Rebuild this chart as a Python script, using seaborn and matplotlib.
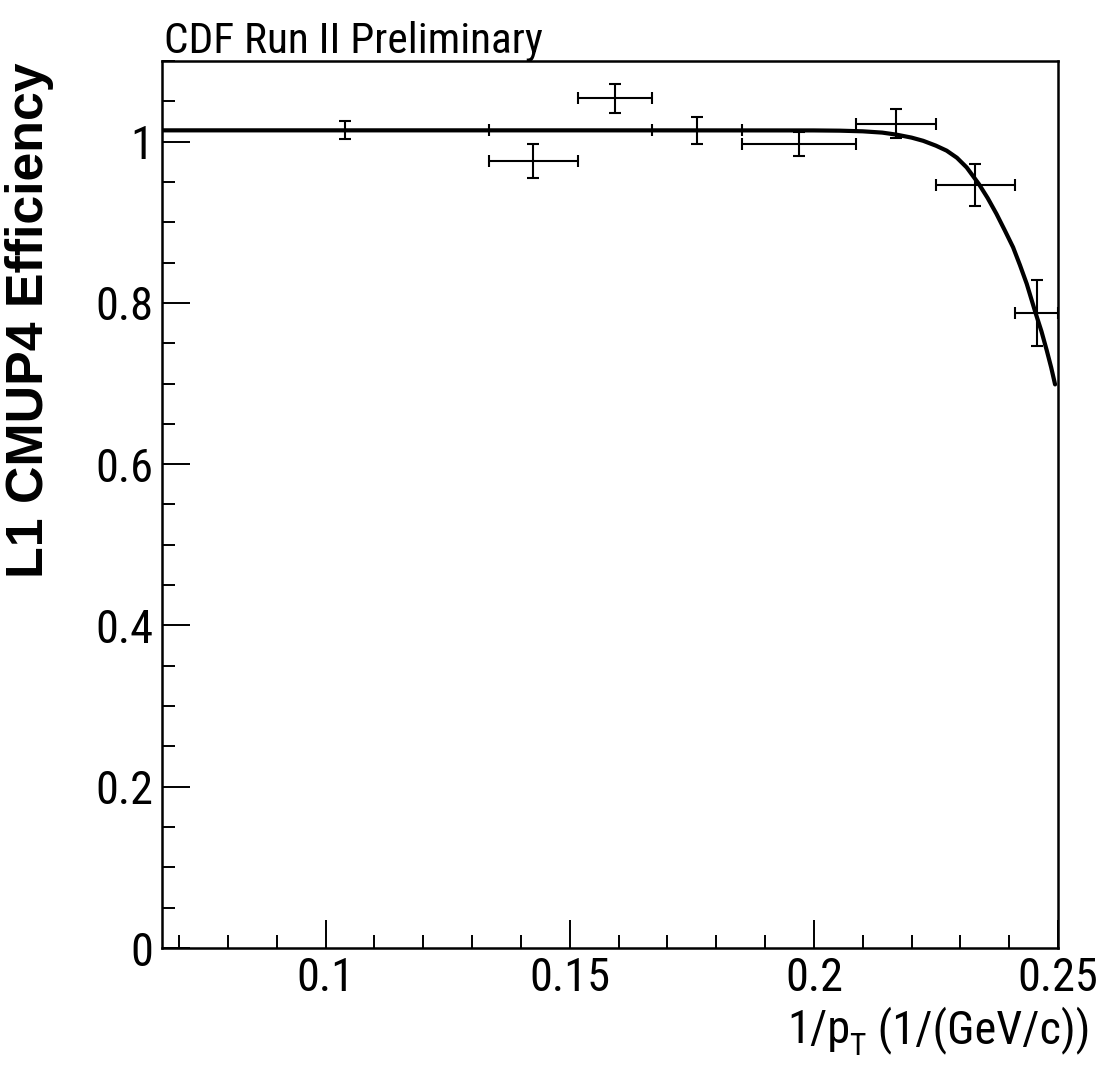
import matplotlib
matplotlib.use("Agg")
import matplotlib.pyplot as plt
import matplotlib.font_manager as fm
from matplotlib.font_manager import FontProperties
import seaborn as sns
import numpy as np
import pandas as pd
from matplotlib.ticker import MultipleLocator

# ---- data ----
inv_pt = [0.1039, 0.1425, 0.1592, 0.1760, 0.1970, 0.2168, 0.2331, 0.2456]
xerr_lo = [0.0400, 0.0091, 0.0076, 0.0092, 0.0117, 0.0082, 0.0081, 0.0044]
xerr_hi = [0.0295, 0.0091, 0.0076, 0.0092, 0.0117, 0.0082, 0.0081, 0.0044]
eff = [1.014, 0.976, 1.054, 1.014, 0.997, 1.022, 0.946, 0.788]
eff_err = [0.011, 0.021, 0.018, 0.017, 0.015, 0.018, 0.026, 0.041]

fit_x = [0.0665, 0.1500, 0.2000, 0.2053, 0.2100, 0.2140, 0.2169, 0.2200,
         0.2224, 0.2250, 0.2272, 0.2293, 0.2313, 0.2338, 0.2356, 0.2374,
         0.2391, 0.2408, 0.2422, 0.2436, 0.2454, 0.2466, 0.2477, 0.2486, 0.2494]
fit_y = [1.0140, 1.0140, 1.0139, 1.0136, 1.0128, 1.0112, 1.0087, 1.0050,
         1.0010, 0.9950, 0.9888, 0.9800, 0.9680, 0.9474, 0.9300, 0.9104,
         0.8900, 0.8690, 0.8470, 0.8236, 0.7876, 0.7650, 0.7410, 0.7200, 0.6989]

x_ticks = [0.1, 0.15, 0.2, 0.25]
x_ticklabels = ["0.1", "0.15", "0.2", "0.25"]
y_ticks = [0, 0.2, 0.4, 0.6, 0.8, 1.0]
y_ticklabels = ["0", "0.2", "0.4", "0.6", "0.8", "1"]

title_text = "CDF Run II Preliminary"
xlabel_parts = ["1/p", "T", " (1/(GeV/c))"]
ylabel_text = "L1 CMUP4 Efficiency"

# ---- style ----
sns.set_style("ticks")
plt.rcParams["font.family"] = ["Liberation Sans", "DejaVu Sans"]
for k in ["text.color", "axes.labelcolor", "xtick.color", "ytick.color", "axes.edgecolor"]:
    plt.rcParams[k] = "black"

# choose a condensed Helvetica-like face if one is installed
entries = fm.fontManager.ttflist
names = {f.name for f in entries}
fam, stretch = None, "normal"
for n in ["Liberation Sans Narrow", "Nimbus Sans Narrow", "Arial Narrow",
          "Roboto Condensed", "Noto Sans Condensed", "Open Sans Condensed",
          "Noto Sans SemiCondensed"]:
    if n in names:
        fam = n
        break
if fam is None:
    for base in ["Roboto", "Noto Sans", "Open Sans"]:
        ok = [f for f in entries if f.name == base and f.stretch in
              ("condensed", "semi-condensed", "extra-condensed", 300, 400, 200)
              and (f.weight in ("normal", "regular", 400)) and f.style == "normal"]
        if ok:
            fam, stretch = base, ok[0].stretch
            break
if fam is None:
    fam = "Liberation Sans"


def fp(size, family=None, weight="normal", st=None):
    return FontProperties(family=[family or fam, "DejaVu Sans"], size=size,
                          weight=weight, stretch=st if st is not None else stretch)


W, H = 1103, 1071
fig = plt.figure(figsize=(W / 100, H / 100), dpi=100)
renderer = fig.canvas.get_renderer()


def text_width(s, prop):
    t = fig.text(0, 0, s, fontproperties=prop)
    w = t.get_window_extent(renderer).width
    t.remove()
    return w


def fit_size(s, target_px, cap_pt=35.0, prop_family=None, weight="normal", st=None, wexp=0.4):
    w10 = text_width(s, fp(10, prop_family, weight, st))
    s_w = 10 * target_px / w10
    return (s_w ** wexp) * (cap_pt ** (1 - wexp))


tick_size = fit_size("0.15", 70, 36.5, wexp=0.4)
title_size = fit_size(title_text, 346, 34.0, wexp=0.5)
ylab_size = fit_size(ylabel_text, 516, 35.0, prop_family="Liberation Sans",
                     weight="bold", st="normal", wexp=1.0)

ax = fig.add_axes([162 / W, 1 - 948 / H, (1058 - 162) / W, (948 - 61) / H])

fit_df = pd.DataFrame({"x": fit_x, "y": fit_y})
sns.lineplot(data=fit_df, x="x", y="y", ax=ax, color="black", lw=3.0,
             sort=False, estimator=None, zorder=3)

ax.errorbar(inv_pt, eff, xerr=[xerr_lo, xerr_hi], yerr=eff_err, fmt="none",
            ecolor="black", elinewidth=1.5, capsize=4, capthick=1.5, zorder=4)

ax.set_xlim(0.0665, 0.25)
ax.set_ylim(0, 1.1)
ax.set_xticks(x_ticks)
ax.set_xticklabels(x_ticklabels)
ax.set_yticks(y_ticks)
ax.set_yticklabels(y_ticklabels)
ax.xaxis.set_minor_locator(MultipleLocator(0.01))
ax.yaxis.set_minor_locator(MultipleLocator(0.05))

ax.tick_params(axis="both", which="major", direction="in", length=20, width=1.4,
               top=False, right=False, color="black")
ax.tick_params(axis="both", which="minor", direction="in", length=9.5, width=1.4,
               top=False, right=False, color="black")
ax.tick_params(axis="x", which="major", pad=6)
ax.tick_params(axis="y", which="major", pad=6)
for lab in ax.get_xticklabels() + ax.get_yticklabels():
    lab.set_fontproperties(fp(tick_size))
    lab.set_color("black")

for sp in ax.spines.values():
    sp.set_visible(True)
    sp.set_linewidth(1.8)
    sp.set_color("black")

ax.set_xlabel("")
ax.set_ylabel("")

# title
fig.text(164 / W, 1 - 53 / H, title_text, fontproperties=fp(title_size),
         ha="left", va="baseline", color="black")

# x label: "1/p" + subscript "T" + rest, right aligned at ~1090 px
xl_size = tick_size
sub_size = xl_size * 0.68
p_main = fp(xl_size)
p_sub = fp(sub_size)
w1 = text_width(xlabel_parts[0], p_main)
w2 = text_width(xlabel_parts[1], p_sub)
w3 = text_width(xlabel_parts[2], p_main)
right_px = 1090
base_px = 1043
x0 = right_px - (w1 + w2 + w3)
fig.text(x0 / W, 1 - base_px / H, xlabel_parts[0], fontproperties=p_main,
         ha="left", va="baseline", color="black")
fig.text((x0 + w1 - 1) / W, 1 - (base_px + 12) / H, xlabel_parts[1], fontproperties=p_sub,
         ha="left", va="baseline", color="black")
fig.text((x0 + w1 + w2) / W, 1 - base_px / H, xlabel_parts[2], fontproperties=p_main,
         ha="left", va="baseline", color="black")

# y label
fig.text(30 / W, 1 - 62 / H, ylabel_text,
         fontproperties=fp(ylab_size, "Liberation Sans", "bold", "normal"),
         ha="center", va="top", rotation=90, color="black")

fig.savefig("out.png", dpi=100, facecolor="white")
